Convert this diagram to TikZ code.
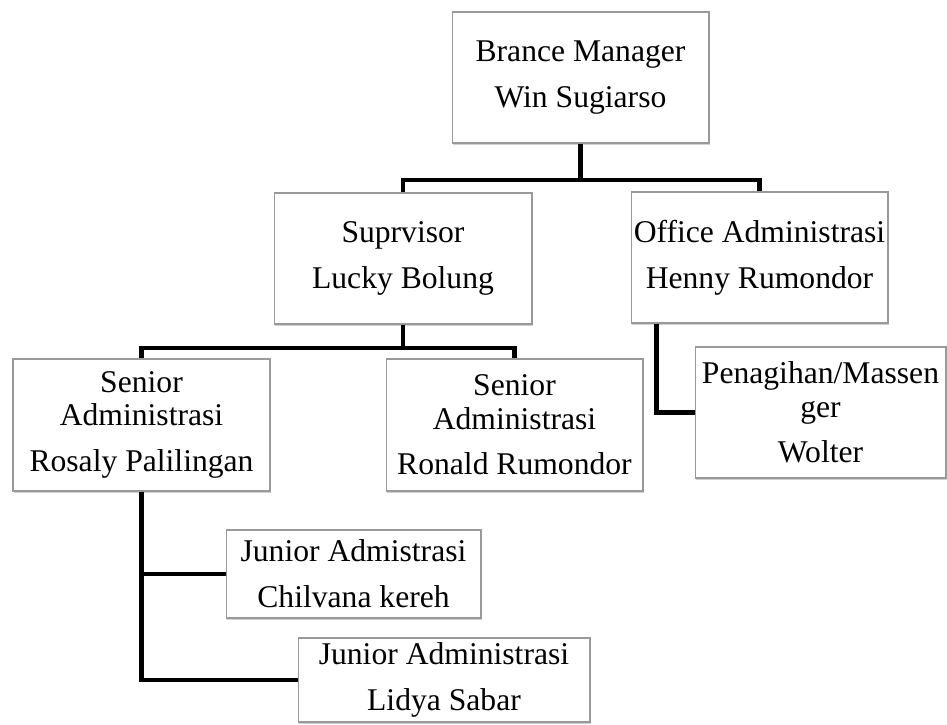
\documentclass[tikz,border=0pt]{standalone}
\usepackage{fontspec}
\setmainfont{Liberation Serif}
\usetikzlibrary{shadows,positioning}
\tikzset{
  box/.style={draw=black!40, line width=0.6pt, fill=white, align=center, inner sep=0pt,
    minimum width=5.14cm, minimum height=2.62cm,
    font=\fontsize{18}{19}\selectfont,
    drop shadow={shadow xshift=0.8pt, shadow yshift=-1.4pt, opacity=0.3, fill=black!60}},
  link/.style={line width=2.6pt}
}

\begin{document}
\begin{tikzpicture}[x=0.02cm,y=-0.02cm]
\useasboundingbox (0,0) rectangle (947,724);

% boxes
\node[box] (bm) at (580.5,77.5) {Brance Manager\\[7pt]Win Sugiarso};
\node[box, minimum width=5.16cm] (sup) at (403,258.5) {Suprvisor\\[7pt]Lucky Bolung};
\node[box] (off) at (759.5,257.5) {Office Administrasi\\[7pt]Henny Rumondor};
\node[box, minimum height=2.64cm] (sr1) at (141.5,425) {Senior\\Administrasi\\[7pt]Rosaly Palilingan};
\node[box, minimum height=2.64cm] (sr2) at (514.5,425) {Senior\\Administrasi\\[7pt]Ronald Rumondor};
\node[box, minimum width=5.02cm] (pen) at (820.5,412.5) {Penagihan/Massen\\ger\\[7pt]Wolter};
\node[box, minimum width=5.10cm, minimum height=1.76cm] (jr1) at (353.5,574) {Junior Admistrasi\\[7pt]Chilvana kereh};
\node[box, minimum width=5.84cm, minimum height=1.68cm] (jr2) at (444,680) {Junior Administrasi\\[7pt]Lidya Sabar};

% connectors
\coordinate (b1) at (580.5,180);
\coordinate (b2) at (403,348);
\draw[link] (bm.south) -- (b1);
\draw[link] (sup.north) |- (b1) -| (off.north);
\draw[link] (sup.south) -- (b2);
\draw[link] (sr1.north) |- (b2) -| (sr2.north);
\draw[link] ([xshift=0.52cm]off.south west) |- (pen.west);
\draw[link] (sr1.south) |- (jr2.west);
\draw[link] (sr1.south |- jr1.west) -- (jr1.west);
\end{tikzpicture}
\end{document}
